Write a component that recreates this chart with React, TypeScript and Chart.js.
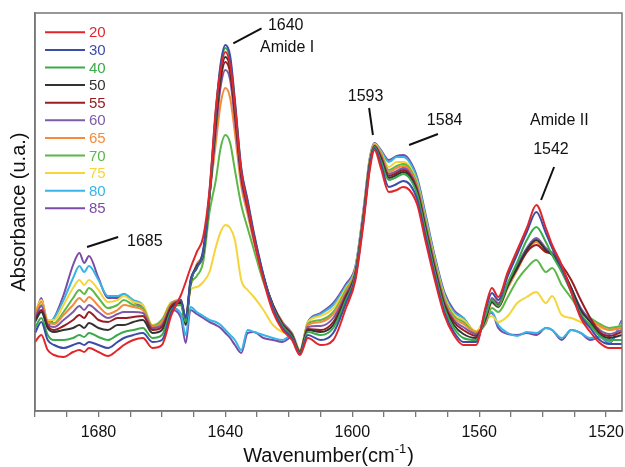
import React, { useEffect, useRef } from "react";
import { Chart, registerables } from "chart.js";

Chart.register(...registerables);

const FONT = '"Liberation Sans", Arial, Helvetica, sans-serif';

// wavenumbers (cm-1), shared by all series
const WAVENUMBERS = [
  1700, 1698, 1696, 1694, 1691, 1688, 1686, 1684.5, 1683, 1680,
  1677, 1674, 1672, 1669, 1666, 1663, 1660, 1657, 1654, 1652.5,
  1651, 1649, 1647, 1645, 1643, 1641.5, 1640, 1638.5, 1637, 1635,
  1633, 1631, 1628, 1625, 1622, 1619, 1616.5, 1614, 1610, 1606,
  1602, 1599, 1596.5, 1594.5, 1593, 1591, 1588.5, 1586, 1584, 1582,
  1579.5, 1577, 1574, 1571, 1568, 1565, 1561, 1558, 1556, 1554,
  1551, 1548, 1545, 1542, 1539, 1537, 1534, 1531, 1528, 1525,
  1522, 1519, 1515,
];

const TEMPERATURES = ["20", "30", "40", "50", "55", "60", "65", "70", "75", "80", "85"];

const ABS_20 = [69,76,61,56,54,59,61,59,63,59, 55,61,66,71,73,63,66,96,116,129, 143,159,174,221,303,341,359,346,306,239, 206,173,131,99,81,71,56,73,66,71, 103,131,187,241,261,243,219,221,224,221, 206,171,131,96,76,66,66,104,123,114, 139,161,183,206,183,166,146,119,93,79, 68,63,63];
const ABS_30 = [78,89,71,66,63,66,68,66,69,66, 63,69,73,76,78,69,71,99,111,93, 131,143,161,219,300,347,366,355,311,243, 211,178,136,103,83,73,57,76,71,78, 108,134,190,244,263,247,224,227,230,227, 211,176,135,99,79,69,69,101,118,111, 135,157,179,199,178,163,143,119,95,83, 71,67,67];
const ABS_40 = [83,93,76,71,71,73,76,74,78,74, 71,76,79,81,83,73,76,101,106,89, 129,143,159,216,298,344,363,351,308,241, 209,176,135,104,85,74,58,79,76,83, 111,136,192,245,264,250,231,234,237,233, 216,181,139,103,83,73,71,95,111,105, 128,149,171,184,169,156,139,119,97,86, 75,71,71];
const ABS_50 = [89,99,83,79,81,83,86,83,88,83, 81,86,86,89,91,78,81,103,108,86, 127,145,157,215,291,336,354,343,301,237, 206,175,135,105,86,75,59,81,79,86, 113,137,193,246,264,252,233,236,239,235, 218,183,141,105,86,77,73,93,109,104, 125,143,161,171,161,156,143,123,101,89, 77,73,76];
const ABS_55 = [91,101,85,81,85,91,96,93,99,91, 89,93,93,94,95,81,84,105,109,91, 129,145,158,215,287,331,349,338,297,235, 204,173,134,106,87,76,59,82,81,89, 115,138,194,247,265,254,235,238,241,237, 220,185,143,107,89,81,75,93,111,106, 126,143,159,166,159,157,146,131,111,93, 79,75,79];
const ABS_60 = [93,105,86,84,91,99,105,101,106,99, 93,97,99,99,98,83,86,106,110,89, 128,144,156,214,281,324,341,331,291,231, 201,171,133,106,88,77,59,84,85,93, 117,139,195,248,265,255,237,240,243,239, 222,187,145,109,91,84,77,91,113,108, 127,146,163,173,163,158,143,123,103,91, 81,77,81];
const ABS_65 = [97,109,89,87,96,106,113,109,114,105, 97,101,106,104,101,84,89,107,111,93, 127,147,159,215,268,307,323,313,278,225, 197,169,132,106,89,77,60,86,89,97, 119,140,196,249,266,257,239,243,245,241, 224,189,147,111,93,87,79,89,108,104, 123,141,159,169,159,159,141,121,101,91, 85,81,83];
const ABS_70 = [95,106,88,88,99,113,121,117,123,113, 103,106,111,106,103,85,91,108,111,91, 125,135,149,199,231,263,276,268,241,206, 183,161,129,105,89,78,60,87,91,99, 121,141,197,250,266,258,241,245,247,243, 226,191,149,113,95,89,79,87,103,99, 114,131,143,151,139,143,126,113,99,93, 87,83,85];
const ABS_75 = [99,111,91,91,106,123,131,126,131,121, 109,111,115,109,106,86,91,109,108,89, 121,124,129,139,164,179,186,183,171,131, 121,114,101,86,79,76,61,89,95,103, 123,142,198,251,267,259,244,249,249,245, 228,193,151,115,97,91,80,91,95,89, 95,108,114,119,108,115,96,93,89,86, 83,81,86];
const ABS_80 = [93,111,89,93,111,133,145,139,145,131, 115,115,117,111,106,85,91,103,97,76, 104,99,95,91,89,86,81,76,71,61, 81,79,76,73,71,76,61,88,97,106, 125,143,199,251,267,260,249,254,254,249, 231,196,153,117,99,93,79,93,99,86, 78,75,79,78,83,81,73,81,78,73, 74,69,89];
const ABS_85 = [93,113,86,93,116,146,158,148,155,133, 113,113,117,109,103,83,89,101,93,68, 101,97,93,89,86,83,78,73,66,58, 78,79,73,71,69,74,59,89,98,108, 127,145,201,253,268,261,251,255,256,251, 233,198,155,119,101,93,77,94,98,83, 77,76,78,76,83,81,71,81,78,71, 74,68,91];

const SERIES = [ABS_20, ABS_30, ABS_40, ABS_50, ABS_55, ABS_60, ABS_65, ABS_70, ABS_75, ABS_80, ABS_85];

const COLORS = [
  "#e0262b", "#3b4da6", "#3aaa4a", "#333333", "#9a1d22", "#7c5ba8",
  "#f58a3a", "#5bb847", "#f5d53a", "#36b5e6", "#7a4ca8",
];

const X_TICKS = [1700, 1690, 1680, 1670, 1660, 1650, 1640, 1630, 1620, 1610, 1600, 1590, 1580, 1570, 1560, 1550, 1540, 1530, 1520];
const X_LABELS = [1680, 1640, 1600, 1560, 1520];

// annotation labels (wavenumber, absorbance) and leader lines
const NOTE_TEXT = ["1640", "Amide I", "1593", "1584", "Amide II", "1542", "1685"];
const NOTE_X = [1626.6, 1629.1, 1595.8, 1576.5, 1544.0, 1543.0, 1671.0];
const NOTE_Y = [385, 363, 314, 290, 290, 261, 169];
const NOTE_ALIGN = ["left", "left", "center", "left", "left", "left", "left"];

const LEADER_X1 = [1637.5, 1594.7, 1582.1, 1536.4, 1683.6];
const LEADER_Y1 = [367.7, 303, 266, 244, 164];
const LEADER_X2 = [1628.6, 1593.5, 1573.0, 1540.5, 1673.8];
const LEADER_Y2 = [382.7, 276, 277, 211, 174];

const overlayPlugin = {
  id: "overlay",
  afterDraw(chart: any) {
    const { ctx, chartArea } = chart;
    const xs = chart.scales.x;
    const ys = chart.scales.y;
    ctx.save();
    // frame
    ctx.strokeStyle = "#777";
    ctx.lineWidth = 1.5;
    ctx.strokeRect(chartArea.left, chartArea.top, chartArea.right - chartArea.left, chartArea.bottom - chartArea.top);

    // legend
    const lx0 = chartArea.left + 10;
    const lx1 = chartArea.left + 50;
    for (let i = 0; i < TEMPERATURES.length; i++) {
      const y = chartArea.top + 19.3 + i * 17.6;
      ctx.strokeStyle = COLORS[i];
      ctx.lineWidth = 2;
      ctx.beginPath();
      ctx.moveTo(lx0, y);
      ctx.lineTo(lx1, y);
      ctx.stroke();
      ctx.fillStyle = COLORS[i];
      ctx.font = `15px ${FONT}`;
      ctx.textAlign = "left";
      ctx.textBaseline = "middle";
      ctx.fillText(TEMPERATURES[i], lx1 + 4, y + 1);
    }

    // leader lines
    ctx.strokeStyle = "#111";
    ctx.lineWidth = 2;
    for (let i = 0; i < LEADER_X1.length; i++) {
      ctx.beginPath();
      ctx.moveTo(xs.getPixelForValue(LEADER_X1[i]), ys.getPixelForValue(LEADER_Y1[i]));
      ctx.lineTo(xs.getPixelForValue(LEADER_X2[i]), ys.getPixelForValue(LEADER_Y2[i]));
      ctx.stroke();
    }

    // notes
    ctx.fillStyle = "#111";
    ctx.font = `16px ${FONT}`;
    ctx.textBaseline = "middle";
    for (let i = 0; i < NOTE_TEXT.length; i++) {
      ctx.textAlign = NOTE_ALIGN[i] as CanvasTextAlign;
      ctx.fillText(NOTE_TEXT[i], xs.getPixelForValue(NOTE_X[i]), ys.getPixelForValue(NOTE_Y[i]));
    }

    // x title with superscript
    const cx = (chartArea.left + chartArea.right) / 2;
    const base = 462;
    ctx.font = `20px ${FONT}`;
    const t1 = "Wavenumber(cm";
    const w1 = ctx.measureText(t1).width;
    ctx.font = `13px ${FONT}`;
    const sup = "-1";
    const w2 = ctx.measureText(sup).width;
    ctx.font = `20px ${FONT}`;
    const w3 = ctx.measureText(")").width;
    const total = w1 + w2 + w3 + 1;
    let x = cx - total / 2;
    ctx.textAlign = "left";
    ctx.textBaseline = "alphabetic";
    ctx.fillText(t1, x, base);
    x += w1;
    ctx.font = `13px ${FONT}`;
    ctx.fillText(sup, x, base - 9);
    x += w2 + 1;
    ctx.font = `20px ${FONT}`;
    ctx.fillText(")", x, base);

    // y title
    ctx.save();
    ctx.translate(19, (chartArea.top + chartArea.bottom) / 2);
    ctx.rotate(-Math.PI / 2);
    ctx.textAlign = "center";
    ctx.textBaseline = "middle";
    ctx.font = `20px ${FONT}`;
    ctx.fillText("Absorbance (u.a.)", 0, 0);
    ctx.restore();

    ctx.restore();
  },
};

export default function App() {
  const ref = useRef<HTMLCanvasElement | null>(null);

  useEffect(() => {
    if (!ref.current) return;
    const datasets = SERIES.map((vals, i) => ({
      label: TEMPERATURES[i],
      data: WAVENUMBERS.map((w, j) => ({ x: w, y: vals[j] })),
      borderColor: COLORS[i],
      backgroundColor: COLORS[i],
      borderWidth: 2,
      pointRadius: 0,
      fill: false,
      cubicInterpolationMode: "monotone" as const,
    }));
    const chart = new Chart(ref.current, {
      type: "line",
      data: { datasets },
      options: {
        responsive: false,
        animation: false,
        devicePixelRatio: 1,
        layout: { padding: { top: 13, right: 3, left: 0, bottom: 0 } },
        plugins: { legend: { display: false }, tooltip: { enabled: false } },
        scales: {
          x: {
            type: "linear",
            reverse: true,
            min: 1515,
            max: 1700,
            afterBuildTicks: (axis: any) => {
              axis.ticks = X_TICKS.map((v) => ({ value: v }));
            },
            afterFit: (axis: any) => {
              axis.height = 56;
              axis.paddingLeft = 0;
              axis.paddingRight = 0;
            },
            grid: { display: true, drawOnChartArea: false, drawTicks: true, tickLength: 6, color: "#777", lineWidth: 1.3 },
            border: { display: true, color: "#777", width: 1.5 },
            ticks: {
              autoSkip: false,
              maxRotation: 0,
              padding: 6,
              color: "#111",
              font: { size: 16, family: FONT },
              callback: (v: any) => (X_LABELS.includes(Number(v)) ? String(v) : ""),
            },
          },
          y: {
            type: "linear",
            min: 0,
            max: 398,
            afterFit: (axis: any) => {
              axis.width = 35;
              axis.paddingTop = 0;
              axis.paddingBottom = 0;
            },
            ticks: { display: false },
            grid: { display: false },
            border: { display: true, color: "#777", width: 1.5 },
          },
        },
      },
      plugins: [overlayPlugin],
    });
    return () => chart.destroy();
  }, []);

  return (
    <div style={{ position: "fixed", left: 0, top: 0, width: 625, height: 467, background: "#fff" }}>
      <canvas ref={ref} width={625} height={467} style={{ display: "block" }} />
    </div>
  );
}
